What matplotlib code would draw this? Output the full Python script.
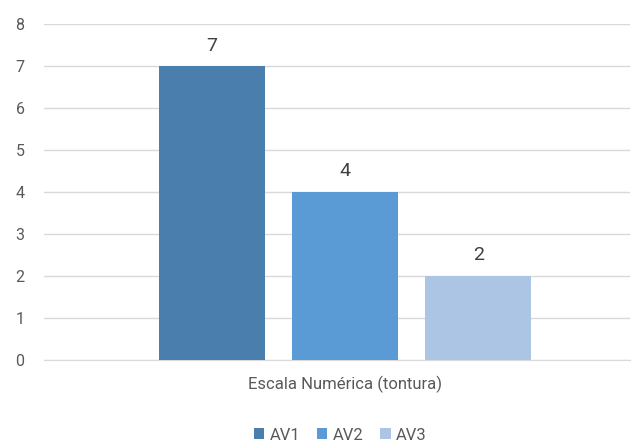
import numpy as np
import matplotlib.pyplot as plt

plt.rcParams['font.family'] = ['Roboto', 'DejaVu Sans']

# ---------- DATA ----------
category = "Escala Numérica (tontura)"
series = ["AV1", "AV2", "AV3"]
values = [7, 4, 2]
colors = ["#4a7ead", "#5b9bd5", "#adc5e5"]

# ---------- PLOT ----------
fig = plt.figure(figsize=(6.35, 4.44), dpi=100)
ax = fig.add_axes([44/635, 84.5/444, 586/635, 335.5/444])

x = np.arange(len(series)) - 1
bars = ax.bar(x, values, width=0.8, color=colors, label=series, zorder=3)

for xi, v in zip(x, values):
    ax.text(xi, v + 0.27, str(v), ha='center', va='bottom', fontsize=14, color='#404040')

ax.set_xlim(-2.26, 2.14)
ax.set_ylim(0, 8)
ax.set_yticks(range(0, 9))
ax.yaxis.grid(True, color='#d9d9d9', linewidth=1.0, zorder=0)
ax.tick_params(axis='y', length=0, pad=14, labelsize=11.5, labelcolor='#595959')
ax.set_xticks([0])
ax.set_xticklabels([category])
ax.tick_params(axis='x', length=0, pad=12, labelsize=12, labelcolor='#595959')
for s in ['top', 'right', 'left']:
    ax.spines[s].set_visible(False)
ax.spines['bottom'].set_color('#d9d9d9')

fig.legend(handles=bars, labels=series, loc='center', bbox_to_anchor=(340/635, 1 - 435/444),
           ncol=3, frameon=False, fontsize=12, labelcolor='#595959',
           handlelength=0.65, handleheight=0.65, handletextpad=0.3, columnspacing=1.0)

fig.savefig("out.png", dpi=100)
